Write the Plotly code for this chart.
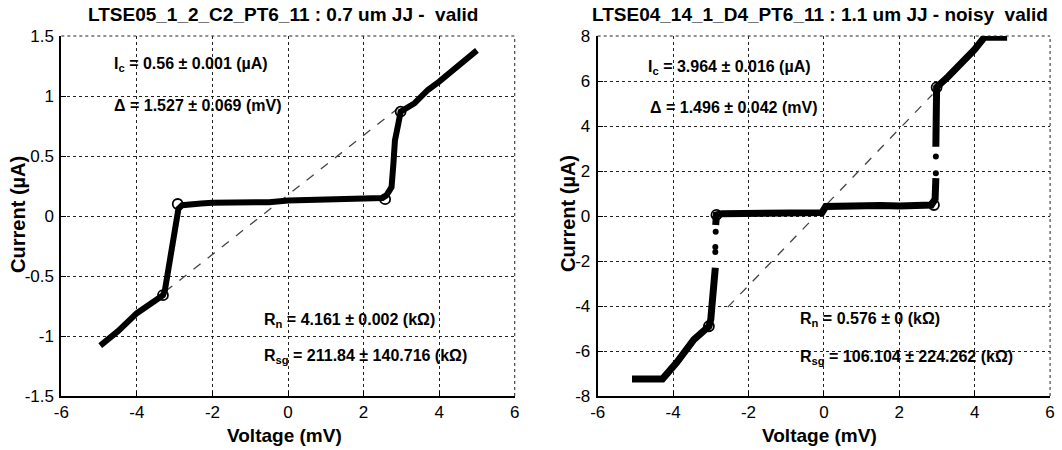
import plotly.graph_objects as go

# ---------------- data ----------------
# Left panel: LTSE05_1_2_C2_PT6_11
left_v = [-4.97, -4.5, -4.0, -3.6, -3.31, -3.26, -3.13, -3.0, -2.95, -2.9, -2.8, -2.6, -2.3,
          -2.0, -1.5, -1.0, -0.5, 0.0, 0.5, 1.0, 1.5, 2.0, 2.3, 2.5, 2.6, 2.74, 2.79, 2.83,
          2.92, 2.98, 3.35, 3.7, 4.0, 4.5, 5.0]
left_i = [-1.08, -0.96, -0.81, -0.73, -0.66, -0.62, -0.39, -0.12, -0.02, 0.06, 0.09, 0.10, 0.105,
          0.11, 0.11, 0.11, 0.115, 0.13, 0.135, 0.14, 0.14, 0.14, 0.145, 0.15, 0.17, 0.24, 0.44, 0.63,
          0.77, 0.87, 0.94, 1.05, 1.12, 1.25, 1.38]
left_circ_v = [-3.31, -2.92, 2.57, 2.98]
left_circ_i = [-0.66, 0.10, 0.14, 0.87]
left_fit_v = [-3.25, 2.92]
left_fit_i = [-0.63, 0.90]

# Right panel: LTSE04_14_1_D4_PT6_11
right_v = [-5.09, -4.28, -3.9, -3.45, -3.05, -3.0, -2.97, -2.93, -2.9, -2.88, None,
           -2.87, -2.86, -2.85, -2.7, -2.4, -2.0, -1.5, -1.0, -0.5, -0.05, 0.05, 0.5, 1.0, 1.5,
           2.0, 2.5, 2.85, 2.95, 2.96, 2.97, None,
           2.97, 2.98, 2.99, 3.3, 3.65, 4.0, 4.26, 4.86]
right_i = [-7.24, -7.24, -6.5, -5.5, -4.9, -4.6, -4.0, -3.2, -2.6, -2.3, None,
           -0.4, -0.1, 0.05, 0.1, 0.1, 0.12, 0.1, 0.12, 0.14, 0.15, 0.42, 0.45, 0.45, 0.47,
           0.45, 0.45, 0.49, 0.75, 1.2, 1.68, None,
           3.08, 4.5, 5.72, 6.2, 6.75, 7.4, 7.95, 7.95]
right_dot_v = [-2.88, -2.88, -2.87, 2.97, 2.97]
right_dot_i = [-1.6, -1.38, -0.7, 1.9, 2.64]
right_circ_v = [-3.05, -2.85, 2.92, 2.99]
right_circ_i = [-4.9, 0.05, 0.49, 5.72]
right_fit_v = [-2.55, 2.88]
right_fit_i = [-4.05, 5.4]

x_ticks = [-6, -4, -2, 0, 2, 4, 6]
left_y_ticks = [-1.5, -1, -0.5, 0, 0.5, 1, 1.5]
right_y_ticks = [-8, -6, -4, -2, 0, 2, 4, 6, 8]

titles = ["LTSE05_1_2_C2_PT6_11 : 0.7 um JJ -  valid",
          "LTSE04_14_1_D4_PT6_11 : 1.1 um JJ - noisy  valid"]
left_notes = ["I<sub>c</sub> = 0.56 ± 0.001 (µA)", "Δ = 1.527 ± 0.069 (mV)",
              "R<sub>n</sub> = 4.161 ± 0.002 (kΩ)", "R<sub>sg</sub> = 211.84 ± 140.716 (kΩ)"]
right_notes = ["I<sub>c</sub> = 3.964 ± 0.016 (µA)", "Δ = 1.496 ± 0.042 (mV)",
               "R<sub>n</sub> = 0.576 ± 0 (kΩ)", "R<sub>sg</sub> = 106.104 ± 224.262 (kΩ)"]
left_note_pos = [(-4.66, 1.26), (-4.66, 0.925), (-0.70, -0.87), (-0.70, -1.17)]
right_note_pos = [(-4.72, 6.62), (-4.67, 4.84), (-0.70, -4.62), (-0.70, -6.27)]

# ---------------- figure ----------------
W, H = 1062, 450
FONT = "Liberation Sans, Arial, sans-serif"
fig = go.Figure()

def add_panel(xa, ya, v, i, cv, ci, fv, fi, lw):
    fig.add_trace(go.Scatter(x=fv, y=fi, mode="lines", xaxis=xa, yaxis=ya,
                             line=dict(color="#444", width=1.3, dash="dash"),
                             showlegend=False, hoverinfo="skip"))
    fig.add_trace(go.Scatter(x=v, y=i, mode="lines", xaxis=xa, yaxis=ya, connectgaps=False,
                             line=dict(color="black", width=lw),
                             showlegend=False))
    fig.add_trace(go.Scatter(x=cv, y=ci, mode="markers", xaxis=xa, yaxis=ya,
                             marker=dict(symbol="circle-open", size=10, color="black",
                                         line=dict(width=1.8, color="black")),
                             showlegend=False))

add_panel("x", "y", left_v, left_i, left_circ_v, left_circ_i, left_fit_v, left_fit_i, 6)
add_panel("x2", "y2", right_v, right_i, right_circ_v, right_circ_i, right_fit_v, right_fit_i, 7)
fig.add_trace(go.Scatter(x=right_dot_v, y=right_dot_i, mode="markers", xaxis="x2", yaxis="y2",
                         marker=dict(size=6, color="black"), showlegend=False))

dom_l = [54 / W, 513 / W]
dom_r = [597 / W, 1055 / W]

common_x = dict(range=[-6, 6], tickvals=x_ticks, ticktext=[str(t) for t in x_ticks],
                showgrid=True, gridcolor="#222", griddash="dot", gridwidth=1,
                zeroline=False, showline=True, linecolor="black", linewidth=2,
                ticks="inside", ticklen=5, tickcolor="black",
                tickfont=dict(family=FONT, size=17, color="black"))
common_y = dict(showgrid=True, gridcolor="#222", griddash="dot", gridwidth=1,
                zeroline=False, showline=True, linecolor="black", linewidth=2,
                ticks="inside", ticklen=5, tickcolor="black", ticklabelstandoff=2,
                tickfont=dict(family=FONT, size=17, color="black"))

fig.update_layout(
    width=W, height=H,
    margin=dict(l=0, r=0, t=36, b=54),
    paper_bgcolor="white", plot_bgcolor="white",
    xaxis=dict(domain=dom_l, anchor="y", **common_x),
    yaxis=dict(domain=[0, 1], anchor="x", range=[-1.5, 1.5], tickvals=left_y_ticks,
               ticktext=["-1.5", "-1", "-0.5", "0", "0.5", "1", "1.5"], **common_y),
    xaxis2=dict(domain=dom_r, anchor="y2", **common_x),
    yaxis2=dict(domain=[0, 1], anchor="x2", range=[-8, 8], tickvals=right_y_ticks,
                ticktext=[str(t) for t in right_y_ticks], **common_y),
)

# dotted top/right box edges
for xr, yr in (("x", "y"), ("x2", "y2")):
    fig.add_shape(type="line", xref=xr + " domain", yref=yr + " domain", x0=0, x1=1, y0=1, y1=1,
                  line=dict(color="#222", width=1, dash="dot"))
    fig.add_shape(type="line", xref=xr + " domain", yref=yr + " domain", x0=1, x1=1, y0=0, y1=1,
                  line=dict(color="#222", width=1, dash="dot"))

def ann(text, x, y, xref="paper", yref="paper", size=17, angle=0, xanchor="center"):
    fig.add_annotation(text=text, x=x, y=y, xref=xref, yref=yref, showarrow=False,
                       textangle=angle, xanchor=xanchor, yanchor="middle",
                       font=dict(family=FONT, size=size, color="black"))

def py(p):  # pixel y -> paper y
    return (H - 54 - p) / (H - 90)

ann("<b>" + titles[0] + "</b>", 278 / W, py(15), size=19)
ann("<b>" + titles[1] + "</b>", 822 / W, py(15), size=19)
ann("<b>Voltage (mV)</b>", 280 / W, py(435), size=19)
ann("<b>Voltage (mV)</b>", 822 / W, py(435), size=19)
ann("<b>Current (µA)</b>", 10 / W, py(214), size=20, angle=-90)
ann("<b>Current (µA)</b>", 567 / W, py(214), size=20, angle=-90)

for t, (x, y) in zip(left_notes, left_note_pos):
    ann("<b>" + t + "</b>", x, y, "x", "y", size=16, xanchor="left")
for t, (x, y) in zip(right_notes, right_note_pos):
    ann("<b>" + t + "</b>", x, y, "x2", "y2", size=16, xanchor="left")

fig.write_html("out.html")
